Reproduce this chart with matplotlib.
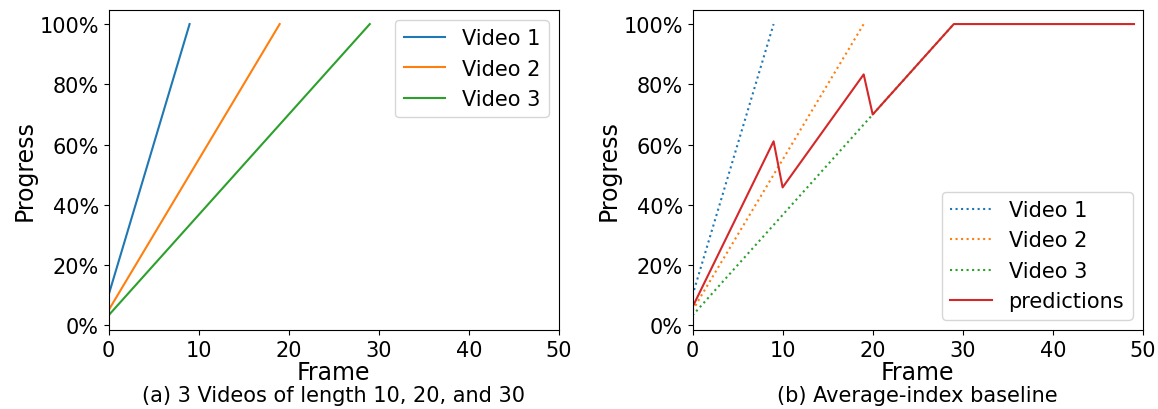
import matplotlib
matplotlib.use("Agg")
import matplotlib.pyplot as plt
from matplotlib.ticker import PercentFormatter

# Per-video progress curves (breakpoints of each straight segment)
video1_frames = [0, 9]
video1_progress = [0.100, 1.000]
video2_frames = [0, 19]
video2_progress = [0.050, 1.000]
video3_frames = [0, 29]
video3_progress = [0.0333, 1.000]

# Average-index baseline predictions (breakpoints)
pred_frames = [0, 9, 10, 19, 20, 29, 49]
pred_progress = [0.061, 0.611, 0.458, 0.833, 0.700, 1.000, 1.000]

series_labels = ["Video 1", "Video 2", "Video 3"]
captions = ["(a) 3 Videos of length 10, 20, and 30", "(b) Average-index baseline"]
x_ticks = [0, 10, 20, 30, 40, 50]

colors = ["#1f77b4", "#ff7f0e", "#2ca02c"]
pred_color = "#d62728"

fig = plt.figure(figsize=(11.58, 4.10), dpi=100)
ax1 = fig.add_axes([108.5 / 1158, 1 - 331 / 410, 450.5 / 1158, 320.5 / 410])
ax2 = fig.add_axes([692.5 / 1158, 1 - 331 / 410, 450.5 / 1158, 320.5 / 410])

videos = [(video1_frames, video1_progress),
          (video2_frames, video2_progress),
          (video3_frames, video3_progress)]

for (fx, fy), lab, c in zip(videos, series_labels, colors):
    ax1.plot(fx, fy, color=c, label=lab, lw=1.5)
    ax2.plot(fx, fy, color=c, label=lab, lw=1.5, linestyle=":")
ax2.plot(pred_frames, pred_progress, color=pred_color, label="predictions", lw=1.5)

for ax, cap in zip([ax1, ax2], captions):
    ax.set_xlim(0, 50)
    ax.set_xticks(x_ticks)
    ax.yaxis.set_major_formatter(PercentFormatter(1.0, decimals=0))
    ax.tick_params(labelsize=15)
    ax.set_xlabel("Frame", fontsize=17, labelpad=0)
    ax.set_ylabel("Progress", fontsize=17, labelpad=2)
    ax.text(0.5, -0.172, cap, transform=ax.transAxes, ha="center", va="top", fontsize=15)

ax1.legend(loc="upper right", fontsize=15)
ax2.legend(loc="lower right", fontsize=15)

fig.savefig("out.png", dpi=100)
